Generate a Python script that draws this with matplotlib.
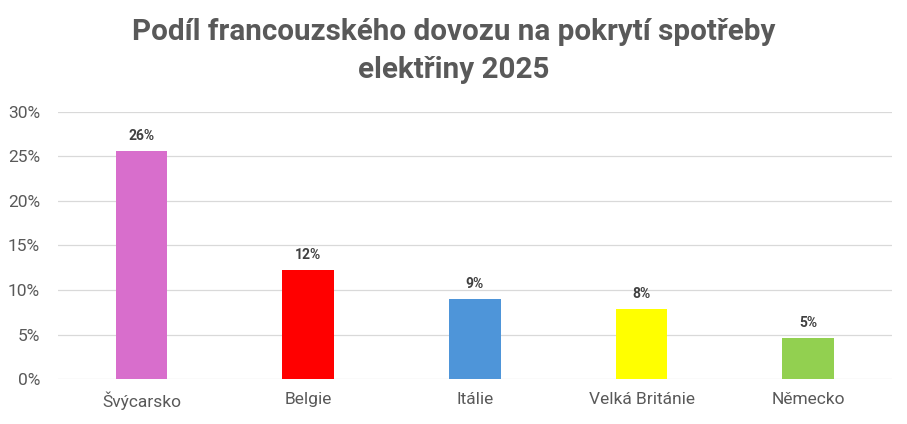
import matplotlib
matplotlib.use("Agg")
import matplotlib.pyplot as plt
from matplotlib.ticker import FuncFormatter

countries = ["Švýcarsko", "Belgie", "Itálie", "Velká Británie", "Německo"]
shares = [25.6, 12.2, 9.0, 7.9, 4.6]
colors = ["#D86ECC", "#FF0000", "#4E95D9", "#FFFF00", "#92D050"]
title = "Podíl francouzského dovozu na pokrytí spotřeby\nelektřiny 2025"

plt.rcParams['font.family'] = ['Roboto', 'DejaVu Sans']

fig = plt.figure(figsize=(9.07, 4.24), dpi=100)
ax = fig.add_axes([0.064, 0.106, 0.919, 0.630])

x = range(len(countries))
bars = ax.bar(x, shares, width=0.31, color=colors, zorder=3)
for xi, v in zip(x, shares):
    ax.text(xi, v + 0.9, "%d%%" % round(v), ha='center', va='bottom',
            fontsize=10, fontweight='bold', color='#404040')

ax.set_xlim(-0.5, 4.5)
ax.set_ylim(0, 30)
ax.set_yticks(range(0, 31, 5))
ax.yaxis.set_major_formatter(FuncFormatter(lambda v, p: "%d%%" % v))
ax.set_xticks(list(x))
ax.set_xticklabels(countries)
ax.grid(axis='y', color='#D9D9D9', linewidth=0.9, zorder=0)
for s in ax.spines.values():
    s.set_visible(False)
ax.tick_params(axis='both', length=0, labelsize=12.5, colors='#595959')
ax.tick_params(axis='x', pad=9)
ax.tick_params(axis='y', pad=13)

fig.text(0.5, 0.879, title, ha='center', va='center', fontsize=21.3,
         fontweight='bold', color='#595959', linespacing=1.45)

fig.savefig("out.png", dpi=100)
